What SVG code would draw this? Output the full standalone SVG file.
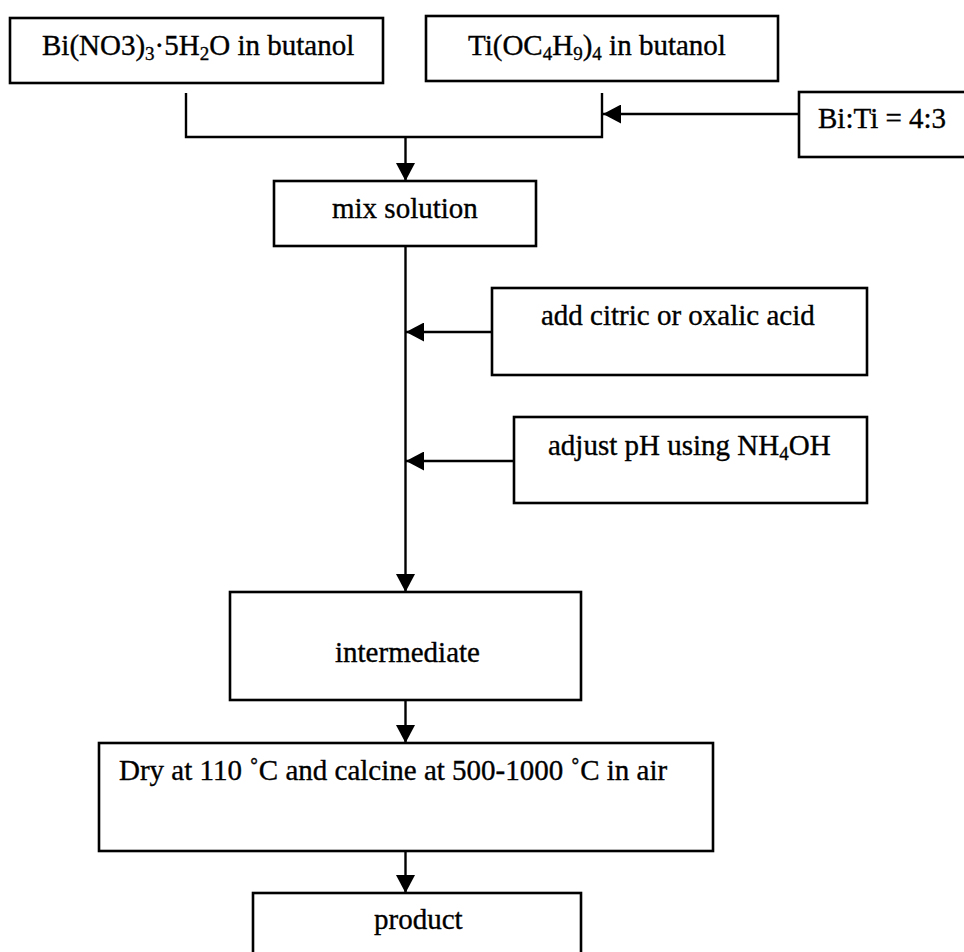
<svg xmlns="http://www.w3.org/2000/svg" width="964" height="952" viewBox="0 0 964 952">
<style>
.box{fill:#fff;stroke:#000;stroke-width:2.6}
.t{font-family:"Liberation Serif","Times New Roman",serif;font-size:29px;fill:#000;stroke:#000;stroke-width:0.35}
.s{font-size:19px}
.c{fill:none;stroke:#000;stroke-width:2.4}
</style>
<defs>
<marker id="ah" viewBox="0 0 18 19" refX="18" refY="9.5" markerWidth="18" markerHeight="19" markerUnits="userSpaceOnUse" orient="auto"><path d="M0,0 L18,9.5 L0,19 z" fill="#000"/></marker>
</defs>
<rect width="964" height="952" fill="#fff"/>
<g id="connectors">
<polyline class="c" points="186,93 186,137 602,137 602,93"/>
<line class="c" x1="405.5" y1="137" x2="405.5" y2="181" marker-end="url(#ah)"/>
<line class="c" x1="799" y1="114" x2="603" y2="114" marker-end="url(#ah)"/>
<line class="c" x1="405.5" y1="246" x2="405.5" y2="592" marker-end="url(#ah)"/>
<line class="c" x1="492" y1="332" x2="406" y2="332" marker-end="url(#ah)"/>
<line class="c" x1="514" y1="461" x2="406" y2="461" marker-end="url(#ah)"/>
<line class="c" x1="405.5" y1="700" x2="405.5" y2="743" marker-end="url(#ah)"/>
<line class="c" x1="405.5" y1="851" x2="405.5" y2="893" marker-end="url(#ah)"/>
</g>
<g id="bi-nitrate">
<rect class="box" x="10" y="18" width="373" height="65"/>
<text class="t" x="42" y="55">Bi(NO3)<tspan class="s" dy="5">3</tspan><tspan dy="-5">·5H</tspan><tspan class="s" dy="5">2</tspan><tspan dy="-5">O in butanol</tspan></text>
</g>
<g id="ti-butoxide">
<rect class="box" x="426" y="16" width="352" height="65"/>
<text class="t" x="468" y="55">Ti(OC<tspan class="s" dy="5">4</tspan><tspan dy="-5">H</tspan><tspan class="s" dy="5">9</tspan><tspan dy="-5">)</tspan><tspan class="s" dy="5">4</tspan><tspan dy="-5"> in butanol</tspan></text>
</g>
<g id="ratio">
<rect class="box" x="799" y="92" width="180" height="65"/>
<text class="t" x="818" y="128">Bi:Ti = 4:3</text>
</g>
<g id="mix">
<rect class="box" x="274" y="181" width="262" height="65"/>
<text class="t" x="332" y="218">mix solution</text>
</g>
<g id="acid">
<rect class="box" x="492" y="288" width="375" height="87"/>
<text class="t" x="541" y="325">add citric or oxalic acid</text>
</g>
<g id="ph">
<rect class="box" x="514" y="417" width="353" height="86"/>
<text class="t" x="548" y="455">adjust pH using NH<tspan class="s" dy="5">4</tspan><tspan dy="-5">OH</tspan></text>
</g>
<g id="intermediate">
<rect class="box" x="230" y="592" width="351" height="108"/>
<text class="t" x="335" y="662">intermediate</text>
</g>
<g id="dry">
<rect class="box" x="99" y="743" width="614" height="108"/>
<text class="t" x="119" y="780">Dry at 110 ˚C and calcine at 500-1000 ˚C in air</text>
</g>
<g id="product">
<rect class="box" x="253" y="893" width="328" height="80"/>
<text class="t" x="374" y="929">product</text>
</g>
</svg>
